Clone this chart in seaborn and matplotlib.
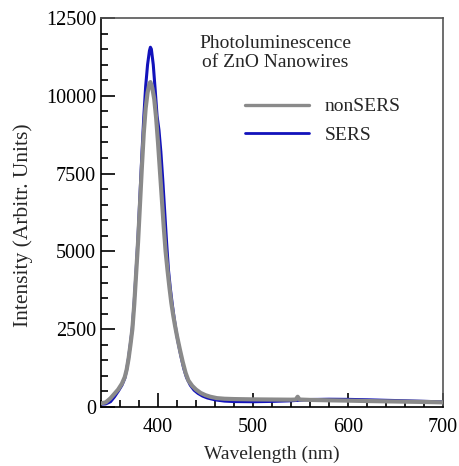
import matplotlib
matplotlib.use("Agg")
import matplotlib.pyplot as plt
from matplotlib.ticker import MultipleLocator
import seaborn as sns
import pandas as pd

# nonSERS spectrum (wavelength nm, intensity a.u.)
non_wl = [340, 345, 350, 354, 358, 362, 365, 367, 369, 371, 373, 375, 377, 379, 381, 383,
          385, 387, 389, 391, 392, 394, 396, 398, 400, 402, 404, 406, 408, 410, 412,
          414, 416, 418, 420, 423, 426, 429, 432, 436, 440, 445, 450, 455, 462, 470,
          480, 500, 520, 540, 545, 547, 549, 560, 580, 600, 620, 640, 660, 680, 700]
non_int = [115, 150, 280, 420, 560, 750, 960, 1200, 1550, 2000, 2500, 3300, 4300, 5300, 6500, 7700,
           8800, 9600, 10100, 10400, 10440, 10250, 9900, 9300, 8500, 7600, 6700, 5800, 5000, 4400, 3850,
           3350, 2950, 2600, 2280, 1850, 1450, 1100, 850, 680, 560, 450, 380, 330, 285, 265,
           255, 245, 240, 235, 240, 330, 240, 228, 215, 205, 192, 182, 172, 162, 150]

# SERS spectrum
sers_wl = [340, 345, 350, 354, 358, 362, 365, 367, 369, 371, 373, 375, 377, 379, 381, 383,
           385, 387, 389, 391, 392, 393, 395, 397, 399, 401, 403, 405, 407, 409, 411,
           413, 415, 417, 419, 421, 424, 427, 430, 434, 438, 442, 447, 452, 460, 470,
           480, 500, 520, 540, 560, 580, 600, 620, 640, 660, 680, 700]
sers_int = [90, 100, 170, 320, 500, 700, 920, 1200, 1580, 2050, 2550, 3400, 4400, 5500, 6800, 8100,
            9300, 10300, 11000, 11450, 11560, 11500, 11000, 10200, 9350, 8900, 8200, 7300, 6300, 5300, 4400,
            3800, 3300, 2850, 2450, 2100, 1650, 1250, 950, 700, 540, 440, 350, 290, 230, 190,
            175, 170, 180, 200, 240, 250, 245, 232, 215, 200, 182, 165]

series_names = ["nonSERS", "SERS"]
series_colors = ["#8a8a8a", "#1212bb"]

df = pd.concat([
    pd.DataFrame({"Wavelength": non_wl, "Intensity": non_int, "Sample": "nonSERS"}),
    pd.DataFrame({"Wavelength": sers_wl, "Intensity": sers_int, "Sample": "SERS"}),
])

sns.set_style("white")
plt.rcParams["font.family"] = ["Liberation Serif", "DejaVu Serif"]
plt.rcParams["font.size"] = 14

fig = plt.figure(figsize=(4.6, 4.66), dpi=100)
ax = fig.add_axes([0.2196, 0.1266, 0.7434, 0.8348])

sns.lineplot(data=df, x="Wavelength", y="Intensity", hue="Sample",
             hue_order=series_names, palette=dict(zip(series_names, series_colors)),
             ax=ax, sort=True, estimator=None)
lines = ax.get_lines()
lines[0].set_linewidth(3.0)
lines[0].set_zorder(3)
lines[1].set_linewidth(2.2)
lines[1].set_zorder(2)

ax.set_xlim(340, 700)
ax.set_ylim(0, 12500)
ax.xaxis.set_major_locator(MultipleLocator(100))
ax.xaxis.set_minor_locator(MultipleLocator(20))
ax.yaxis.set_major_locator(MultipleLocator(2500))
ax.yaxis.set_minor_locator(MultipleLocator(500))
ax.tick_params(which="both", direction="in", top=False, right=False,
               bottom=True, left=True, width=1.2, color="black", labelsize=14.5,
               labelcolor="black")
ax.tick_params(which="major", length=10)
ax.tick_params(which="minor", length=5)
ax.tick_params(axis="x", which="major", pad=8)

for side in ["left", "bottom"]:
    ax.spines[side].set_color("black")
    ax.spines[side].set_linewidth(1.2)
for side in ["top", "right"]:
    ax.spines[side].set_color("#555555")
    ax.spines[side].set_linewidth(1.2)

ax.set_xlabel("Wavelength (nm)", fontsize=14, labelpad=6)
ax.set_ylabel("Intensity (Arbitr. Units)", fontsize=15.5)
ax.yaxis.set_label_coords(-0.2, 0.468)

ax.text(0.51, 0.955, "Photoluminescence\nof ZnO Nanowires", transform=ax.transAxes,
        ha="center", va="top", fontsize=14, linespacing=1.15)

leg = ax.legend(loc="upper left", bbox_to_anchor=(0.37, 0.84), frameon=False,
                fontsize=14, handlelength=3.3, handletextpad=0.8, labelspacing=0.55)
for h, lw in zip(leg.get_lines(), [2.4, 2.0]):
    h.set_linewidth(lw)

fig.savefig("out.png", dpi=100)
